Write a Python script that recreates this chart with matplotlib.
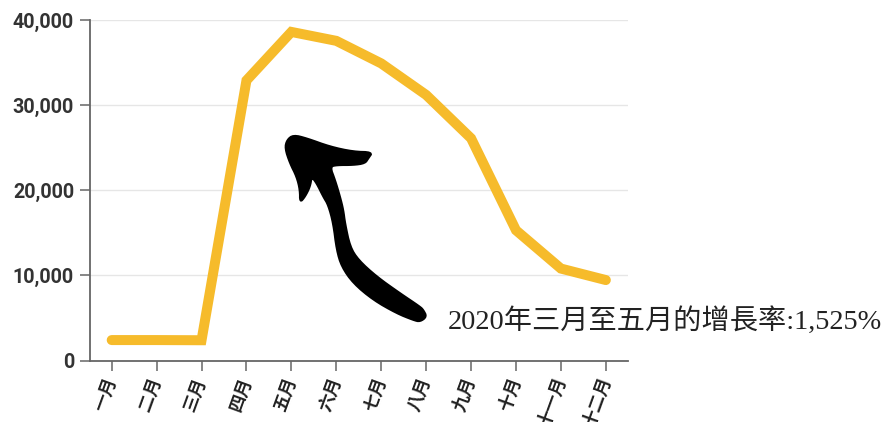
import matplotlib
matplotlib.use("Agg")
import matplotlib.pyplot as plt
import numpy as np
from matplotlib.patches import Polygon
from matplotlib.ticker import FuncFormatter

months = ["一月", "二月", "三月", "四月", "五月", "六月",
          "七月", "八月", "九月", "十月", "十一月", "十二月"]
values = [2400, 2400, 2380, 32900, 38600, 37550,
          34900, 31200, 26100, 15300, 10800, 9450]
y_ticks = [0, 10000, 20000, 30000, 40000]
note = "2020年三月至五月的增長率:1,525%"

W, H = 886, 422
fig = plt.figure(figsize=(W / 100, H / 100), dpi=100)
ax = fig.add_axes([90 / W, 1 - 360.5 / H, (628.3 - 90) / W, (360.5 - 20) / H])

x = list(range(len(months)))
ax.plot(x, values, color="#F6BB2B", lw=7.2, solid_capstyle="round",
        solid_joinstyle="miter", zorder=3)

ax.set_xlim(-0.483, 11.5)
ax.set_ylim(0, 40000)
ax.set_yticks(y_ticks)
ax.yaxis.set_major_formatter(FuncFormatter(lambda v, p: f"{int(v):,}"))
ax.set_xticks(x)
ax.set_xticklabels(months, rotation=70, ha="right", va="center",
                   rotation_mode="anchor", family=["Noto Sans CJK TC"],
                   fontsize=12.5, color="#222222", fontweight="bold")
for lab in ax.get_yticklabels():
    lab.set_family(["Roboto"])
    lab.set_fontweight("bold")
    lab.set_fontsize(14.2)
    lab.set_color("#333333")

ax.grid(axis="y", color="#e6e6e6", lw=1.0, zorder=0)
ax.set_axisbelow(True)
for s in ["top", "right"]:
    ax.spines[s].set_visible(False)
for s in ["left", "bottom"]:
    ax.spines[s].set_color("#666666")
    ax.spines[s].set_linewidth(1.3)
ax.tick_params(axis="both", length=7.5, width=1.1, color="#666666")
ax.tick_params(axis="y", pad=4)
ax.tick_params(axis="x", pad=5)

ax.text(7.47, 4600, note, ha="left", va="center", fontsize=20.3,
        family=["Liberation Serif", "Noto Sans CJK TC"], color="#222222",
        clip_on=False)

# brush-style arrow (decoration), outline in figure pixels from top-left
arrow_px = [
    (426.7, 316.7), (420, 321.7), (413.3, 320), (396.7, 313.3), (373.3, 300),
    (353.3, 283.3), (341.7, 266.7), (336.7, 250), (333.3, 223.3), (328.3, 205),
    (323.3, 196.7), (316.7, 183.3), (311.7, 176.7), (310, 186.7), (305, 196.7),
    (300, 202.5), (300, 190), (296.7, 176.7), (290, 163.3), (285, 148.3),
    (287, 140), (293.3, 135), (306.7, 138.3), (330, 146.7), (353.3, 151.7),
    (372.5, 152.2), (368.3, 158.3), (365, 163.3), (353.3, 165), (336.7, 165),
    (330, 166.7), (335, 180), (340, 196.7), (343.3, 210), (345, 223.3),
    (350, 246.7), (358.3, 260), (376.7, 276.7), (400, 293.3), (420, 306.7),
    (423.3, 310),
]


def chaikin(pts, n=2):
    p = np.asarray(pts, float)
    for _ in range(n):
        q = np.roll(p, -1, axis=0)
        p = np.stack([0.75 * p + 0.25 * q, 0.25 * p + 0.75 * q], axis=1).reshape(-1, 2)
    return p


smooth = chaikin(arrow_px, 2)
arrow_fig = np.column_stack([smooth[:, 0] / W, 1 - smooth[:, 1] / H])
fig.patches.append(Polygon(arrow_fig, closed=True, transform=fig.transFigure,
                           facecolor="black", edgecolor="black", lw=1.5,
                           joinstyle="round", zorder=5))

fig.savefig("out.png", dpi=100)
